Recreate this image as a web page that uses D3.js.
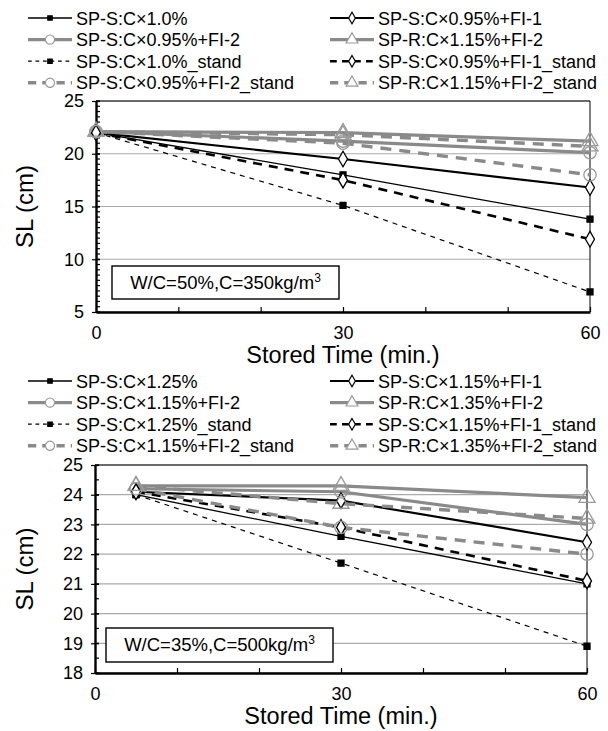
<!DOCTYPE html>
<html>
<head>
<meta charset="utf-8">
<script src="https://cdn.jsdelivr.net/npm/d3@7"></script>
<style>
  body { margin: 0; background: #fff; }
  svg { display: block; font-family: "Liberation Sans", Arial, sans-serif; }
</style>
</head>
<body>
<div id="chart"></div>
<script>
// ---- data ----
const topTimes = [0, 30, 60];
const topNames = [
  'SP-S:C×1.0%', 'SP-S:C×0.95%+FI-1',
  'SP-S:C×0.95%+FI-2', 'SP-R:C×1.15%+FI-2',
  'SP-S:C×1.0%_stand', 'SP-S:C×0.95%+FI-1_stand',
  'SP-S:C×0.95%+FI-2_stand', 'SP-R:C×1.15%+FI-2_stand'
];
const topValues = [
  [22.0, 18.0, 13.8],
  [22.0, 19.5, 16.8],
  [22.1, 21.2, 20.1],
  [22.1, 22.0, 21.2],
  [22.0, 15.1, 6.9],
  [22.0, 17.5, 11.9],
  [22.1, 21.0, 18.0],
  [22.1, 21.8, 20.7]
];
const topNote = 'W/C=50%,C=350kg/m';

const bottomTimes = [5, 30, 60];
const bottomNames = [
  'SP-S:C×1.25%', 'SP-S:C×1.15%+FI-1',
  'SP-S:C×1.15%+FI-2', 'SP-R:C×1.35%+FI-2',
  'SP-S:C×1.25%_stand', 'SP-S:C×1.15%+FI-1_stand',
  'SP-S:C×1.15%+FI-2_stand', 'SP-R:C×1.35%+FI-2_stand'
];
const bottomValues = [
  [24.0, 22.6, 21.0],
  [24.1, 23.8, 22.4],
  [24.2, 24.1, 23.0],
  [24.3, 24.3, 23.9],
  [24.0, 21.7, 18.9],
  [24.1, 22.9, 21.1],
  [24.2, 22.9, 22.0],
  [24.3, 23.7, 23.2]
];
const bottomNote = 'W/C=35%,C=500kg/m';

const xTickLabels = [0, 30, 60];
const topYTicks = [5, 10, 15, 20, 25];
const bottomYTicks = [18, 19, 20, 21, 22, 23, 24, 25];

// ---- styles per series position ----
const GRAY = '#8a8a8a';
const styles = [
  { stroke: '#000', width: 1.3, dash: null,   sym: d3.symbolSquare,   size: 36,  fill: '#000', mstroke: '#000' },
  { stroke: '#000', width: 2.2, dash: null,   sym: d3.symbolDiamond,  size: 70,  fill: '#fff', mstroke: '#000' },
  { stroke: GRAY,   width: 3.2, dash: null,   sym: d3.symbolCircle,   size: 120, fill: 'none', mstroke: '#999' },
  { stroke: GRAY,   width: 3.2, dash: null,   sym: d3.symbolTriangle, size: 110, fill: 'none', mstroke: '#999' },
  { stroke: '#000', width: 1.2, dash: '5,5',  sym: d3.symbolSquare,   size: 36,  fill: '#000', mstroke: '#000' },
  { stroke: '#000', width: 2.6, dash: '9,7',  sym: d3.symbolDiamond,  size: 70,  fill: '#fff', mstroke: '#000' },
  { stroke: GRAY,   width: 3.4, dash: '11,8', sym: d3.symbolCircle,   size: 120, fill: 'none', mstroke: '#999' },
  { stroke: GRAY,   width: 3.4, dash: '11,8', sym: d3.symbolTriangle, size: 110, fill: 'none', mstroke: '#999' }
];

const W = 608, H = 731;
const svg = d3.select('#chart').append('svg').attr('width', W).attr('height', H);

function drawPanel(opt) {
  const { times, names, values, yDomain, yTicks, minorStep, left, right, top, bottom, legendTop, note, noteBox } = opt;
  const x = d3.scaleLinear().domain([0, 60]).range([left, right]);
  const y = d3.scaleLinear().domain(yDomain).range([bottom, top]);

  // legend (two columns, row-major)
  const lg = svg.append('g');
  names.forEach((name, i) => {
    const st = styles[i];
    const col = i % 2, row = Math.floor(i / 2);
    const lx = col === 0 ? 28 : 330;
    const ly = legendTop + row * 21.6;
    const g = lg.append('g').attr('transform', `translate(${lx},${ly})`);
    g.append('line').attr('x1', 0).attr('x2', 44).attr('y1', 0).attr('y2', 0)
      .attr('stroke', st.stroke).attr('stroke-width', st.width)
      .attr('stroke-dasharray', st.dash ? st.dash.split(',').map(v => v * 0.75).join(',') : null);
    g.append('path').attr('transform', 'translate(22,0)')
      .attr('d', d3.symbol(st.sym, st.size * 0.55)())
      .attr('fill', st.fill === 'none' ? '#fff' : st.fill).attr('stroke', st.mstroke).attr('stroke-width', 1.2);
    g.append('text').attr('x', 48).attr('y', 6.5).attr('font-size', 18).text(name);
  });

  // gridlines
  svg.append('g').selectAll('line').data(yTicks).join('line')
    .attr('x1', left).attr('x2', right).attr('y1', d => y(d)).attr('y2', d => y(d))
    .attr('stroke', '#aaa').attr('stroke-width', 1.2);

  // frame: thin top/right
  svg.append('path').attr('d', `M${left},${top}H${right}V${bottom}`)
    .attr('fill', 'none').attr('stroke', '#000').attr('stroke-width', 1);

  // minor y ticks (inward)
  const minor = d3.range(yDomain[0], yDomain[1] + 1e-6, minorStep);
  svg.append('g').selectAll('line').data(minor).join('line')
    .attr('x1', left).attr('x2', left + 4).attr('y1', d => y(d)).attr('y2', d => y(d))
    .attr('stroke', '#000').attr('stroke-width', 1.2);

  // y axis
  const ya = svg.append('g').attr('transform', `translate(${left},0)`)
    .call(d3.axisLeft(y).tickValues(yTicks).tickFormat(d3.format('d'))
      .tickSize(4).tickPadding(8).tickSizeOuter(0));
  ya.select('.domain').attr('stroke-width', 2.4);
  ya.selectAll('.tick line').attr('x2', 4).attr('x1', -4).attr('stroke-width', 1.2);
  ya.selectAll('text').attr('font-size', 18).attr('font-family', '"Liberation Sans", Arial, sans-serif').attr('fill', '#000');

  // x axis
  const xa = svg.append('g').attr('transform', `translate(0,${bottom})`)
    .call(d3.axisBottom(x).tickValues(d3.range(0, 61, 10)).tickSize(-5).tickPadding(14).tickSizeOuter(0)
      .tickFormat(d => xTickLabels.includes(d) ? d : ''));
  xa.select('.domain').attr('stroke-width', 2.4);
  xa.selectAll('.tick line').attr('stroke-width', 1.2);
  xa.selectAll('text').attr('font-size', 18).attr('font-family', '"Liberation Sans", Arial, sans-serif').attr('fill', '#000');

  // axis titles
  svg.append('text').attr('x', (left + right) / 2).attr('y', bottom + 51)
    .attr('text-anchor', 'middle').attr('font-size', 23.5).text('Stored Time (min.)');
  svg.append('text').attr('transform', `translate(33,${(top + bottom) / 2}) rotate(-90)`)
    .attr('text-anchor', 'middle').attr('font-size', 24).text('SL (cm)');

  // note box
  const nb = svg.append('g');
  nb.append('rect').attr('x', noteBox[0]).attr('y', noteBox[1]).attr('width', noteBox[2]).attr('height', noteBox[3])
    .attr('fill', '#fff').attr('stroke', '#000').attr('stroke-width', 1.4);
  const nt = nb.append('text').attr('x', noteBox[0] + noteBox[2] / 2).attr('y', noteBox[1] + noteBox[3] / 2 + 6)
    .attr('text-anchor', 'middle').attr('font-size', 18.5).text(note);
  nt.append('tspan').attr('font-size', 12).attr('dy', -7).text('3');

  // series
  const line = d3.line().x((d, i) => x(times[i])).y(d => y(d));
  values.forEach((vals, i) => {
    const st = styles[i];
    svg.append('path').datum(vals).attr('d', line)
      .attr('fill', 'none').attr('stroke', st.stroke).attr('stroke-width', st.width)
      .attr('stroke-dasharray', st.dash);
  });
  values.forEach((vals, i) => {
    const st = styles[i];
    svg.append('g').selectAll('path').data(vals).join('path')
      .attr('transform', (d, j) => `translate(${x(times[j])},${y(d)})`)
      .attr('d', d3.symbol(st.sym, st.size)())
      .attr('fill', st.fill).attr('stroke', st.mstroke).attr('stroke-width', 1.3);
  });
}

drawPanel({
  times: topTimes, names: topNames, values: topValues,
  yDomain: [5, 25], yTicks: topYTicks, minorStep: 0.5,
  left: 96, right: 590, top: 101, bottom: 312, legendTop: 18,
  note: topNote, noteBox: [112, 266, 227, 33]
});

drawPanel({
  times: bottomTimes, names: bottomNames, values: bottomValues,
  yDomain: [18, 25], yTicks: bottomYTicks, minorStep: 0.5,
  left: 95, right: 587, top: 465, bottom: 673, legendTop: 381,
  note: bottomNote, noteBox: [106, 628, 227, 34]
});
</script>
</body>
</html>
